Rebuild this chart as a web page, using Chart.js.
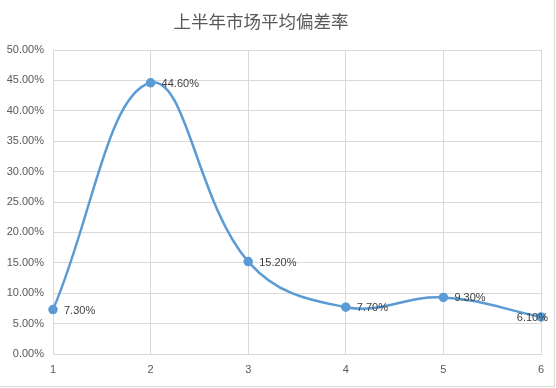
<!DOCTYPE html>
<html>
<head>
<meta charset="utf-8">
<script src="https://cdn.jsdelivr.net/npm/chart.js@4"></script>
<style>
	html, body { margin: 0; padding: 0; background: #fff; }
	#wrap { width: 556px; height: 388px; position: relative; }
	#frame { position: absolute; left: 0; top: 0; width: 555px; height: 387px; box-sizing: border-box; border-right: 1px solid #d9d9d9; border-bottom: 1px solid #d9d9d9; }
	#myChart { position: absolute; left: 0; top: 0; }
	#chart-title {
		position: absolute; top: 9px; left: 0; width: 522px; text-align: center;
		font-family: 'Noto Sans CJK SC', sans-serif; font-size: 17.5px; color: #595959;
		line-height: 24px;
	}
</style>
</head>
<body>
<div id="wrap">
	<div id="frame"></div>
	<canvas id="myChart" width="556" height="388"></canvas>
	<div id="chart-title"></div>
</div>
<script>
// Chart data
let titleText = "上半年市场平均偏差率"
let months = ["1", "2", "3", "4", "5", "6"]
let deviation = [7.3, 44.6, 15.2, 7.7, 9.3, 6.1]

let lineColor = "#5B9BD5"
let textColor = "#595959"
let gridColor = "#d9d9d9"
let baseFont = "'Liberation Sans', 'Noto Sans', sans-serif"

document.getElementById("chart-title").textContent = titleText

// Draw value labels to the right of each point
let valueLabels = {
	id: "valueLabels",
	afterDatasetsDraw(chart) {
		let ctx = chart.ctx
		let meta = chart.getDatasetMeta(0)
		ctx.save()
		ctx.font = "11px " + baseFont
		ctx.fillStyle = "#404040"
		ctx.textBaseline = "middle"
		meta.data.forEach(function (point, i) {
			let text = deviation[i].toFixed(2) + "%"
			let w = ctx.measureText(text).width
			let x = point.x + 11
			if (x + w > chart.width - 8) x = chart.width - 8 - w
			ctx.fillText(text, x, point.y + 1)
		})
		ctx.restore()
	}
}

let ctx = document.getElementById("myChart").getContext("2d")

let config = {
	type: "line",
	data: {
		labels: months,
		datasets: [{
			data: deviation,
			borderColor: lineColor,
			backgroundColor: lineColor,
			borderWidth: 2.5,
			pointRadius: 3.5,
			pointHoverRadius: 3.5,
			tension: 0.4,
			fill: false,
		}],
	},
	options: {
		responsive: false,
		animation: false,
		layout: {
			padding: {top: 50, right: 15, bottom: 0, left: 0}
		},
		plugins: {
			legend: {display: false},
			tooltip: {enabled: false},
			title: {display: false}
		},
		scales: {
			x: {
				offset: false,
				grid: {color: gridColor, drawTicks: false},
				border: {color: gridColor},
				ticks: {
					color: textColor,
					padding: 9,
					font: {size: 11, family: baseFont}
				},
				afterFit: function (scale) { scale.height = 34 }
			},
			y: {
				min: 0,
				max: 50,
				grid: {color: gridColor, drawTicks: false},
				border: {display: false},
				ticks: {
					stepSize: 5,
					color: textColor,
					padding: 9,
					font: {size: 11, family: baseFont},
					callback: function (v) { return v.toFixed(2) + "%" }
				},
				afterFit: function (scale) { scale.width = 53 }
			}
		}
	},
	plugins: [valueLabels]
}

let deviationChart = new Chart(ctx, config)
</script>
</body>
</html>
